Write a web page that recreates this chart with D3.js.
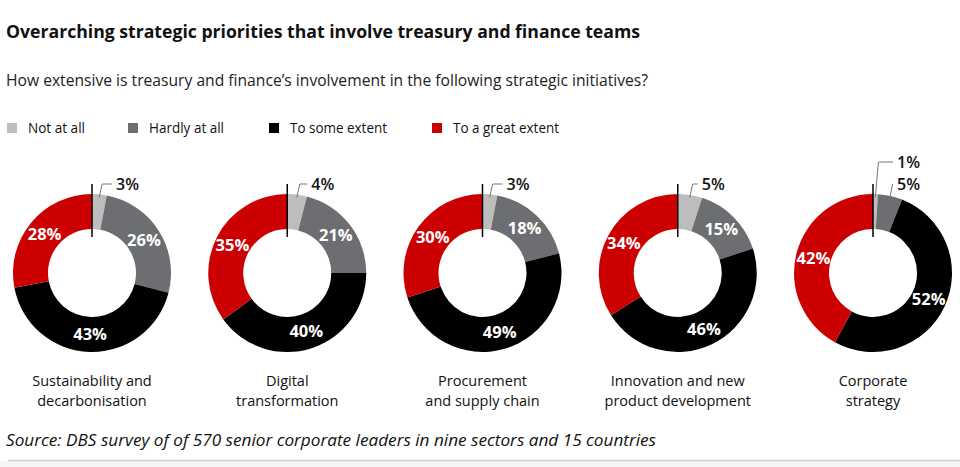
<!DOCTYPE html>
<html>
<head>
<meta charset="utf-8">
<script src="https://cdn.jsdelivr.net/npm/d3@7/dist/d3.min.js"></script>
<style>
  body { margin: 0; background: #fff; }
  svg { display: block; font-family: "Open Sans", sans-serif; }
</style>
</head>
<body>
<div id="chart"></div>
<script>
// survey answers, one entry per initiative
var categories = [
  ["Sustainability and", "decarbonisation"],
  ["Digital", "transformation"],
  ["Procurement", "and supply chain"],
  ["Innovation and new", "product development"],
  ["Corporate", "strategy"]
];
var seriesNames = ["Not at all", "Hardly at all", "To some extent", "To a great extent"];
var notAtAll    = [3, 4, 3, 5, 1];
var hardlyAtAll = [26, 21, 18, 15, 5];
var someExtent  = [43, 40, 49, 46, 52];
var greatExtent = [28, 35, 30, 34, 42];
var seriesColors = ["#bdbdbd", "#6d6e71", "#000000", "#cc0000"];

var width = 960, height = 467;
var cy = 273, rOuter = 79, rInner = 44;

var svg = d3.select("#chart").append("svg")
    .attr("width", width)
    .attr("height", height);

// squeeze a text to the width it has in the reference
function fit(sel, w) {
  sel.attr("textLength", w).attr("lengthAdjust", "spacingAndGlyphs");
  return sel;
}

fit(svg.append("text")
    .attr("x", 6).attr("y", 38)
    .style("font-size", "17.5px").style("font-weight", 700).style("fill", "#111")
    .text("Overarching strategic priorities that involve treasury and finance teams"), 634);

fit(svg.append("text")
    .attr("x", 6).attr("y", 86)
    .style("font-size", "15.5px").style("fill", "#222")
    .text("How extensive is treasury and finance\u2019s involvement in the following strategic initiatives?"), 642);

// legend
var legendX = [7, 128, 269, 432];
var legendW = [57, 75, 97, 106];
var legend = svg.append("g").selectAll("g")
    .data(seriesNames)
    .enter().append("g")
    .attr("transform", function (d, i) { return "translate(" + legendX[i] + ",128)"; });

legend.append("rect")
    .attr("y", -5).attr("width", 10).attr("height", 10)
    .attr("fill", function (d, i) { return seriesColors[i]; });

legend.append("text")
    .attr("x", 21).attr("y", 5)
    .style("font-size", "14px").style("fill", "#111")
    .text(function (d) { return d; })
    .each(function (d, i) { fit(d3.select(this), legendW[i]); });

// one donut per initiative
var rows = categories.map(function (c, i) {
  return { name: c, values: [notAtAll[i], hardlyAtAll[i], someExtent[i], greatExtent[i]] };
});

var x = d3.scalePoint()
    .domain(d3.range(rows.length))
    .range([92, 873]);

var pie = d3.pie().sort(null).value(function (d) { return d; });
var arc = d3.arc().innerRadius(rInner).outerRadius(rOuter);
var labelArc = d3.arc().innerRadius((rInner + rOuter) / 2).outerRadius((rInner + rOuter) / 2);
var edgeArc = d3.arc().innerRadius(rOuter - 3).outerRadius(rOuter - 3);

var donuts = svg.append("g").selectAll("g.donut")
    .data(rows)
    .enter().append("g")
    .attr("class", "donut")
    .attr("transform", function (d, i) { return "translate(" + x(i) + "," + cy + ")"; });

donuts.each(function (row) {
  var g = d3.select(this);
  var slices = pie(row.values);

  g.selectAll("path")
      .data(slices)
      .enter().append("path")
      .attr("d", arc)
      .attr("fill", function (d, i) { return seriesColors[i]; });

  var big = slices.filter(function (d) { return d.data >= 10; });
  var small = slices.filter(function (d) { return d.data < 10; });

  g.selectAll("text.in")
      .data(big)
      .enter().append("text")
      .attr("class", "in")
      .attr("transform", function (d) { return "translate(" + labelArc.centroid(d) + ")"; })
      .attr("text-anchor", "middle")
      .attr("dy", "0.36em")
      .style("font-size", "16.5px").style("font-weight", 700).style("fill", "#fff")
      .text(function (d) { return d.data + "%"; });

  // small slices get a label outside with a leader line
  var n = small.length;
  small.forEach(function (d, k) {
    var p = edgeArc.centroid(d);
    var ly = -89 - 22 * (n - 1 - k);
    var lx = 24;
    g.append("polyline")
        .attr("points", [p, [p[0] + 3, ly], [lx - 4, ly]].map(String).join(" "))
        .attr("fill", "none")
        .attr("stroke", "#777")
        .attr("stroke-width", 1);
    g.append("text")
        .attr("x", lx).attr("y", ly)
        .attr("dy", "0.36em")
        .style("font-size", "16px").style("font-weight", 600).style("fill", "#111")
        .text(d.data + "%");
  });

  g.append("line")
      .attr("x1", 0).attr("x2", 0)
      .attr("y1", -89).attr("y2", -36)
      .attr("stroke", "#000")
      .attr("stroke-width", 1.5);

  var t = g.append("text")
      .attr("text-anchor", "middle")
      .attr("y", 386 - cy)
      .style("font-size", "14.5px").style("fill", "#111");
  row.name.forEach(function (line, j) {
    t.append("tspan").attr("x", 0).attr("dy", j ? 20 : 0).text(line);
  });
});

fit(svg.append("text")
    .attr("x", 6).attr("y", 446)
    .style("font-size", "16px").style("font-style", "italic").style("fill", "#111")
    .text("Source: DBS survey of of 570 senior corporate leaders in nine sectors and 15 countries"), 650);

svg.append("rect")
    .attr("x", 0).attr("y", 461).attr("width", width).attr("height", height - 461)
    .attr("fill", "#f6f6f6");
svg.append("line")
    .attr("x1", 8).attr("x2", width)
    .attr("y1", 460.5).attr("y2", 460.5)
    .attr("stroke", "#cfcfcf")
    .attr("stroke-width", 1.5);
</script>
</body>
</html>
